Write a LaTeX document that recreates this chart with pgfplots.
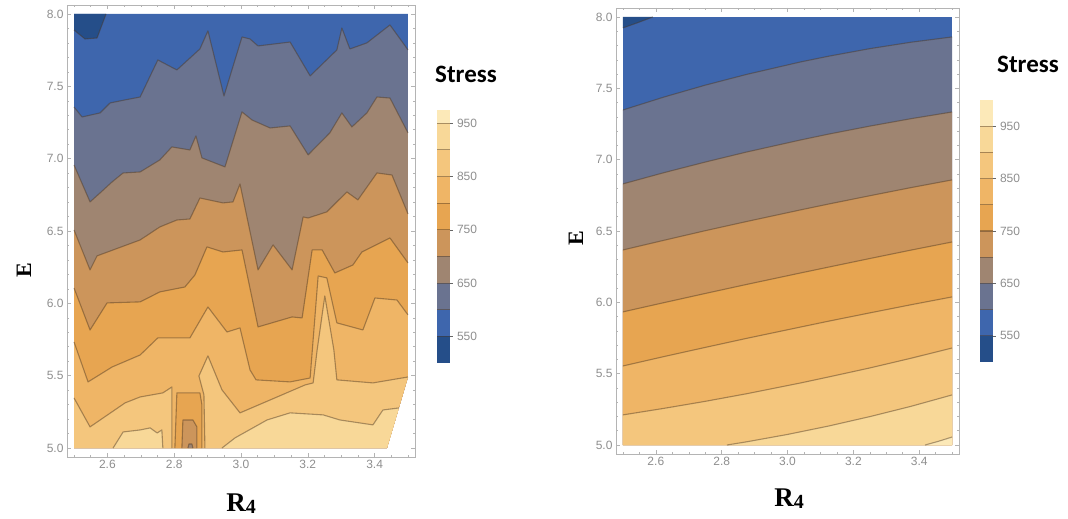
\documentclass[border=0pt]{standalone}
\usepackage{fontspec}
\setmainfont{Liberation Serif}
\newfontfamily\calibri{Carlito}
\newfontfamily\ticksans{Liberation Sans}
\usepackage{pgfplots}
\pgfplotsset{compat=1.18}
\definecolor{bA}{HTML}{254E89}
\definecolor{bB}{HTML}{3E66AD}
\definecolor{bC}{HTML}{6A7390}
\definecolor{bD}{HTML}{9F8571}
\definecolor{bE}{HTML}{CC955B}
\definecolor{bF}{HTML}{E7A551}
\definecolor{bG}{HTML}{EFB566}
\definecolor{bH}{HTML}{F4C67D}
\definecolor{bI}{HTML}{F8D898}
\definecolor{bJ}{HTML}{FCE9B8}
\definecolor{tickgray}{HTML}{8E8E8E}
\definecolor{framegray}{HTML}{B4B4B4}
\definecolor{linebrown}{HTML}{4A3520}
\pgfplotsset{
  cline/.style={draw=linebrown, draw opacity=0.45, line width=1.1pt, line join=round},
  band/.style={fill=#1, draw=none},
  cframe/.style={
    scale only axis, anchor=south west,
    xmin=2.479, xmax=3.521,
    axis line style={draw=framegray, line width=0.6pt},
    xtick={2.6,2.8,3.0,3.2,3.4}, ytick={5,5.5,6,6.5,7,7.5,8},
    minor xtick={2.5,2.55,...,3.51}, minor ytick={5,5.1,...,8.01},
    major tick length=4pt, minor tick length=2.2pt,
    every tick/.style={draw=framegray, line width=0.5pt},
    tick align=inside,
    ticklabel style={font=\ticksans\fontsize{12}{12}\selectfont, text=tickgray,
      /pgf/number format/assume math mode=true,
      /pgf/number format/fixed, /pgf/number format/fixed zerofill,
      /pgf/number format/precision=1},
    clip=true,
  },
  cbar/.style={
    scale only axis, anchor=south west,
    xmin=0, xmax=1, ymin=500,
    hide x axis,
    y axis line style={draw=none},
    ytick={550,650,750,850,950},
    ytick pos=right, yticklabel pos=right,
    tick align=center, major tick length=5pt,
    every tick/.style={draw=black!60, line width=0.5pt},
    yticklabel style={font=\ticksans\fontsize{12}{12}\selectfont, text=tickgray,
      /pgf/number format/assume math mode=true, xshift=1pt},
  },
}
\begin{document}
\begin{tikzpicture}
\useasboundingbox (0,0) rectangle (1068pt,519pt);
% ---------------- LEFT CONTOUR PLOT ----------------
\begin{axis}[cframe, at={(67pt,62pt)}, width=348pt, height=452pt, ymin=4.938, ymax=8.062]
\addplot[band=bB] coordinates {(2.5,5)(2.5,8)(3.5,8)(3.5,5.491)(3.437,5)};
\addplot[band=bA] coordinates {(2.5,8)(2.596,8)(2.569,7.834)(2.533,7.827)(2.5,7.889)};
% below 600
\addplot[band=bC] coordinates {(2.500,7.357)(2.524,7.288)(2.578,7.316)(2.608,7.385)(2.653,7.406)(2.698,7.426)(2.751,7.682)(2.808,7.613)(2.877,7.758)(2.901,7.883)(2.949,7.433)(3.003,7.841)(3.027,7.827)(3.051,7.779)(3.147,7.806)(3.207,7.572)(3.287,7.751)(3.302,7.903)(3.326,7.758)(3.377,7.800)(3.446,7.924)(3.485,7.800)(3.500,7.751)(3.5,5.491)(3.437,5)(2.5,5)};
% below 650
\addplot[band=bD] coordinates {(2.500,6.956)(2.548,6.701)(2.578,6.763)(2.614,6.839)(2.647,6.901)(2.698,6.908)(2.757,6.991)(2.793,7.081)(2.847,7.060)(2.865,7.157)(2.883,7.005)(2.952,6.943)(3.003,7.323)(3.033,7.267)(3.087,7.212)(3.147,7.226)(3.201,7.026)(3.266,7.178)(3.302,7.316)(3.332,7.219)(3.377,7.316)(3.407,7.426)(3.446,7.419)(3.500,7.178)(3.5,5.491)(3.437,5)(2.5,5)};
% below 700
\addplot[band=bE] coordinates {(2.500,6.507)(2.548,6.231)(2.569,6.328)(2.698,6.438)(2.757,6.528)(2.808,6.576)(2.847,6.583)(2.877,6.728)(2.946,6.694)(2.976,6.701)(2.997,6.825)(3.051,6.231)(3.096,6.404)(3.153,6.231)(3.186,6.597)(3.201,6.590)(3.257,6.632)(3.317,6.770)(3.350,6.715)(3.407,6.901)(3.452,6.887)(3.500,6.618)(3.5,5.491)(3.437,5)(2.5,5)};
% below 750
\addplot[band=bF] coordinates {(2.500,6.106)(2.548,5.816)(2.599,6.003)(2.698,6.010)(2.757,6.079)(2.832,6.113)(2.862,6.196)(2.898,6.390)(2.946,6.355)(3.003,6.369)(3.051,5.837)(3.153,5.906)(3.183,5.899)(3.213,6.369)(3.243,6.369)(3.281,6.210)(3.335,6.265)(3.362,6.355)(3.446,6.452)(3.500,6.279)(3.5,5.491)(3.437,5)(2.5,5)};
% below 800
\addplot[band=bG] coordinates {(2.500,5.733)(2.542,5.457)(2.614,5.560)(2.698,5.643)(2.751,5.761)(2.847,5.761)(2.901,5.975)(2.958,5.802)(2.997,5.830)(3.027,5.540)(3.045,5.471)(3.147,5.457)(3.207,5.484)(3.231,6.189)(3.257,6.176)(3.287,5.865)(3.365,5.816)(3.401,6.037)(3.467,6.023)(3.500,5.920)(3.5,5.491)(3.437,5)(2.5,5)};
% below 850
\addplot[band=bH] coordinates {(2.500,5.346)(2.548,5.146)(2.653,5.312)(2.698,5.353)(2.766,5.381)(2.793,5.422)(2.793,5.000)(2.5,5)};
\addplot[band=bH] coordinates {(2.892,5.000)(2.889,5.367)(2.874,5.498)(2.901,5.637)(2.943,5.402)(2.997,5.243)(3.087,5.332)(3.192,5.436)(3.216,5.450)(3.228,5.678)(3.251,6.051)(3.278,5.678)(3.287,5.471)(3.395,5.450)(3.500,5.491)(3.437,5)};
% below 900
\addplot[band=bI] coordinates {(2.617,5.000)(2.647,5.111)(2.698,5.125)(2.728,5.139)(2.749,5.104)(2.763,5.125)(2.766,5.000)};
\addplot[band=bI] coordinates {(2.943,5.000)(2.982,5.070)(3.078,5.194)(3.147,5.243)(3.246,5.229)(3.296,5.194)(3.395,5.160)(3.425,5.263)(3.473,5.277)(3.437,5)};
% column of low stress
\addplot[band=bF] coordinates {(2.802,5.0)(2.808,5.381)(2.877,5.381)(2.883,5.298)(2.883,5.0)};
\addplot[band=bE] coordinates {(2.823,5.0)(2.826,5.194)(2.856,5.194)(2.868,5.146)(2.868,5.0)};
\addplot[band=bD] coordinates {(2.841,5.0)(2.844,5.028)(2.853,5.028)(2.856,5.0)};
% contour lines
\addplot[cline] coordinates {(2.596,8)(2.569,7.834)(2.533,7.827)(2.5,7.889)};
\addplot[cline] coordinates {(2.500,7.357)(2.524,7.288)(2.578,7.316)(2.608,7.385)(2.653,7.406)(2.698,7.426)(2.751,7.682)(2.808,7.613)(2.877,7.758)(2.901,7.883)(2.949,7.433)(3.003,7.841)(3.027,7.827)(3.051,7.779)(3.147,7.806)(3.207,7.572)(3.287,7.751)(3.302,7.903)(3.326,7.758)(3.377,7.800)(3.446,7.924)(3.485,7.800)(3.500,7.751)};
\addplot[cline] coordinates {(2.500,6.956)(2.548,6.701)(2.578,6.763)(2.614,6.839)(2.647,6.901)(2.698,6.908)(2.757,6.991)(2.793,7.081)(2.847,7.060)(2.865,7.157)(2.883,7.005)(2.952,6.943)(3.003,7.323)(3.033,7.267)(3.087,7.212)(3.147,7.226)(3.201,7.026)(3.266,7.178)(3.302,7.316)(3.332,7.219)(3.377,7.316)(3.407,7.426)(3.446,7.419)(3.500,7.178)};
\addplot[cline] coordinates {(2.500,6.507)(2.548,6.231)(2.569,6.328)(2.698,6.438)(2.757,6.528)(2.808,6.576)(2.847,6.583)(2.877,6.728)(2.946,6.694)(2.976,6.701)(2.997,6.825)(3.051,6.231)(3.096,6.404)(3.153,6.231)(3.186,6.597)(3.201,6.590)(3.257,6.632)(3.317,6.770)(3.350,6.715)(3.407,6.901)(3.452,6.887)(3.500,6.618)};
\addplot[cline] coordinates {(2.500,6.106)(2.548,5.816)(2.599,6.003)(2.698,6.010)(2.757,6.079)(2.832,6.113)(2.862,6.196)(2.898,6.390)(2.946,6.355)(3.003,6.369)(3.051,5.837)(3.153,5.906)(3.183,5.899)(3.213,6.369)(3.243,6.369)(3.281,6.210)(3.335,6.265)(3.362,6.355)(3.446,6.452)(3.500,6.279)};
\addplot[cline] coordinates {(2.500,5.733)(2.542,5.457)(2.614,5.560)(2.698,5.643)(2.751,5.761)(2.847,5.761)(2.901,5.975)(2.958,5.802)(2.997,5.830)(3.027,5.540)(3.045,5.471)(3.147,5.457)(3.207,5.484)(3.231,6.189)(3.257,6.176)(3.287,5.865)(3.365,5.816)(3.401,6.037)(3.467,6.023)(3.500,5.920)};
\addplot[cline] coordinates {(2.500,5.346)(2.548,5.146)(2.653,5.312)(2.698,5.353)(2.766,5.381)(2.793,5.422)(2.793,5.000)};
\addplot[cline] coordinates {(2.892,5.000)(2.889,5.367)(2.874,5.498)(2.901,5.637)(2.943,5.402)(2.997,5.243)(3.087,5.332)(3.192,5.436)(3.216,5.450)(3.228,5.678)(3.251,6.051)(3.278,5.678)(3.287,5.471)(3.395,5.450)(3.500,5.491)};
\addplot[cline] coordinates {(2.617,5.000)(2.647,5.111)(2.698,5.125)(2.728,5.139)(2.749,5.104)(2.763,5.125)(2.766,5.000)};
\addplot[cline] coordinates {(2.943,5.000)(2.982,5.070)(3.078,5.194)(3.147,5.243)(3.246,5.229)(3.296,5.194)(3.395,5.160)(3.425,5.263)(3.473,5.277)};
\addplot[cline] coordinates {(2.802,5.0)(2.808,5.381)(2.877,5.381)(2.883,5.298)(2.883,5.0)};
\addplot[cline] coordinates {(2.823,5.0)(2.826,5.194)(2.856,5.194)(2.868,5.146)(2.868,5.0)};
\addplot[cline] coordinates {(2.841,5.0)(2.844,5.028)(2.853,5.028)(2.856,5.0)};
\end{axis}
% left colour bar
\begin{axis}[cbar, at={(437pt,156pt)}, width=13pt, height=253pt, ymax=975]
\addplot[band=bA] coordinates {(0,500)(1,500)(1,550)(0,550)};
\addplot[band=bB] coordinates {(0,550)(1,550)(1,600)(0,600)};
\addplot[band=bC] coordinates {(0,600)(1,600)(1,650)(0,650)};
\addplot[band=bD] coordinates {(0,650)(1,650)(1,700)(0,700)};
\addplot[band=bE] coordinates {(0,700)(1,700)(1,750)(0,750)};
\addplot[band=bF] coordinates {(0,750)(1,750)(1,800)(0,800)};
\addplot[band=bG] coordinates {(0,800)(1,800)(1,850)(0,850)};
\addplot[band=bH] coordinates {(0,850)(1,850)(1,900)(0,900)};
\addplot[band=bI] coordinates {(0,900)(1,900)(1,950)(0,950)};
\addplot[band=bJ] coordinates {(0,950)(1,950)(1,975)(0,975)};
\addplot[cline] coordinates {(0,550)(1,550)};
\addplot[cline] coordinates {(0,600)(1,600)};
\addplot[cline] coordinates {(0,650)(1,650)};
\addplot[cline] coordinates {(0,700)(1,700)};
\addplot[cline] coordinates {(0,750)(1,750)};
\addplot[cline] coordinates {(0,800)(1,800)};
\addplot[cline] coordinates {(0,850)(1,850)};
\addplot[cline] coordinates {(0,900)(1,900)};
\addplot[cline] coordinates {(0,950)(1,950)};
\end{axis}
% ---------------- RIGHT CONTOUR PLOT ----------------
\begin{axis}[cframe, at={(616pt,65pt)}, width=343pt, height=446pt, ymin=4.937, ymax=8.063]
\addplot[band=bB] coordinates {(2.5,5)(2.5,8)(3.5,8)(3.5,5)};
\addplot[band=bA] coordinates {(2.5,8)(2.591,8)(2.545,7.960)(2.5,7.923)};
\addplot[band=bC] coordinates {(2.5,7.348)(2.625,7.439)(2.75,7.522)(2.875,7.597)(3.04,7.685)(3.125,7.725)(3.25,7.778)(3.375,7.823)(3.5,7.860)(3.5,5)(2.5,5)};
\addplot[band=bD] coordinates {(2.5,6.830)(2.625,6.909)(2.75,6.983)(2.875,7.053)(3.04,7.138)(3.125,7.179)(3.25,7.235)(3.375,7.287)(3.5,7.334)(3.5,5)(2.5,5)};
\addplot[band=bE] coordinates {(2.5,6.367)(2.625,6.435)(2.75,6.502)(2.875,6.566)(3.04,6.648)(3.125,6.689)(3.25,6.747)(3.375,6.804)(3.5,6.858)(3.5,5)(2.5,5)};
\addplot[band=bF] coordinates {(2.5,5.933)(2.625,5.998)(2.75,6.062)(2.875,6.125)(3.04,6.206)(3.125,6.247)(3.25,6.307)(3.375,6.366)(3.5,6.423)(3.5,5)(2.5,5)};
\addplot[band=bG] coordinates {(2.5,5.554)(2.625,5.620)(2.75,5.684)(2.875,5.747)(3.04,5.827)(3.125,5.868)(3.25,5.926)(3.375,5.983)(3.5,6.038)(3.5,5)(2.5,5)};
\addplot[band=bH] coordinates {(2.5,5.211)(2.625,5.257)(2.75,5.306)(2.875,5.359)(3.04,5.435)(3.125,5.477)(3.25,5.540)(3.375,5.608)(3.5,5.680)(3.5,5)(2.5,5)};
\addplot[band=bI] coordinates {(2.816,5.0)(2.875,5.022)(3.0,5.074)(3.125,5.133)(3.25,5.199)(3.375,5.271)(3.5,5.351)(3.5,5)};
\addplot[band=bJ] coordinates {(3.418,5.0)(3.46,5.027)(3.5,5.056)(3.5,5)};
\addplot[cline] coordinates {(2.591,8)(2.545,7.960)(2.5,7.923)};
\addplot[cline] coordinates {(2.5,7.348)(2.625,7.439)(2.75,7.522)(2.875,7.597)(3.04,7.685)(3.125,7.725)(3.25,7.778)(3.375,7.823)(3.5,7.860)};
\addplot[cline] coordinates {(2.5,6.830)(2.625,6.909)(2.75,6.983)(2.875,7.053)(3.04,7.138)(3.125,7.179)(3.25,7.235)(3.375,7.287)(3.5,7.334)};
\addplot[cline] coordinates {(2.5,6.367)(2.625,6.435)(2.75,6.502)(2.875,6.566)(3.04,6.648)(3.125,6.689)(3.25,6.747)(3.375,6.804)(3.5,6.858)};
\addplot[cline] coordinates {(2.5,5.933)(2.625,5.998)(2.75,6.062)(2.875,6.125)(3.04,6.206)(3.125,6.247)(3.25,6.307)(3.375,6.366)(3.5,6.423)};
\addplot[cline] coordinates {(2.5,5.554)(2.625,5.620)(2.75,5.684)(2.875,5.747)(3.04,5.827)(3.125,5.868)(3.25,5.926)(3.375,5.983)(3.5,6.038)};
\addplot[cline] coordinates {(2.5,5.211)(2.625,5.257)(2.75,5.306)(2.875,5.359)(3.04,5.435)(3.125,5.477)(3.25,5.540)(3.375,5.608)(3.5,5.680)};
\addplot[cline] coordinates {(2.816,5.0)(2.875,5.022)(3.0,5.074)(3.125,5.133)(3.25,5.199)(3.375,5.271)(3.5,5.351)};
\addplot[cline] coordinates {(3.418,5.0)(3.46,5.027)(3.5,5.056)};
\end{axis}
% right colour bar
\begin{axis}[cbar, at={(980pt,157pt)}, width=13pt, height=262pt, ymax=1000]
\addplot[band=bA] coordinates {(0,500)(1,500)(1,550)(0,550)};
\addplot[band=bB] coordinates {(0,550)(1,550)(1,600)(0,600)};
\addplot[band=bC] coordinates {(0,600)(1,600)(1,650)(0,650)};
\addplot[band=bD] coordinates {(0,650)(1,650)(1,700)(0,700)};
\addplot[band=bE] coordinates {(0,700)(1,700)(1,750)(0,750)};
\addplot[band=bF] coordinates {(0,750)(1,750)(1,800)(0,800)};
\addplot[band=bG] coordinates {(0,800)(1,800)(1,850)(0,850)};
\addplot[band=bH] coordinates {(0,850)(1,850)(1,900)(0,900)};
\addplot[band=bI] coordinates {(0,900)(1,900)(1,950)(0,950)};
\addplot[band=bJ] coordinates {(0,950)(1,950)(1,1000)(0,1000)};
\addplot[cline] coordinates {(0,550)(1,550)};
\addplot[cline] coordinates {(0,600)(1,600)};
\addplot[cline] coordinates {(0,650)(1,650)};
\addplot[cline] coordinates {(0,700)(1,700)};
\addplot[cline] coordinates {(0,750)(1,750)};
\addplot[cline] coordinates {(0,800)(1,800)};
\addplot[cline] coordinates {(0,850)(1,850)};
\addplot[cline] coordinates {(0,900)(1,900)};
\addplot[cline] coordinates {(0,950)(1,950)};
\end{axis}
% titles and axis labels
\node[font=\calibri\bfseries\fontsize{25}{25}\selectfont] at (466pt,445pt) {Stress};
\node[font=\calibri\bfseries\fontsize{25}{25}\selectfont] at (1028pt,455pt) {Stress};
\node[rotate=90, font=\bfseries\fontsize{22}{22}\selectfont] at (24pt,249pt) {E};
\node[rotate=90, font=\bfseries\fontsize{22}{22}\selectfont] at (576pt,281pt) {E};
\node[font=\bfseries\fontsize{27}{27}\selectfont] at (241pt,15pt) {R\raisebox{-2pt}{\fontsize{20}{20}\selectfont 4}};
\node[font=\bfseries\fontsize{27}{27}\selectfont] at (789pt,20pt) {R\raisebox{-2pt}{\fontsize{20}{20}\selectfont 4}};
\end{tikzpicture}
\end{document}
